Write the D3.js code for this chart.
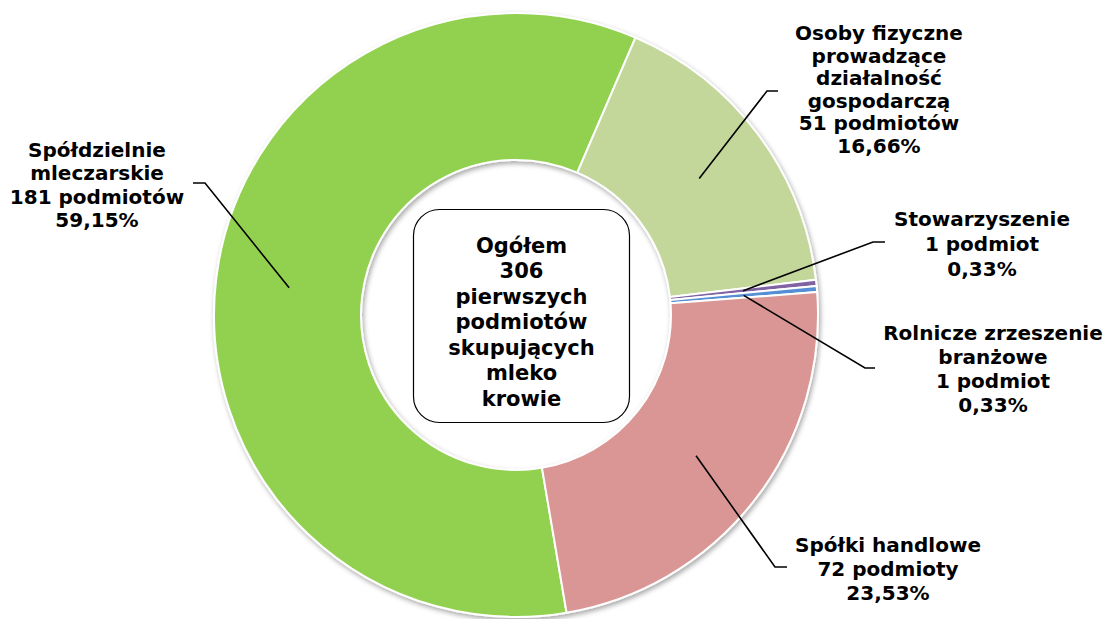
<!DOCTYPE html>
<html>
<head>
<meta charset="utf-8">
<script src="https://cdn.jsdelivr.net/npm/d3@7/dist/d3.min.js"></script>
<style>
  html, body { margin: 0; padding: 0; background: #fff; }
  svg { display: block; }
  text { font-family: "DejaVu Sans", Verdana, sans-serif; font-weight: bold; fill: #000; }
</style>
</head>
<body>
<svg id="chart" width="1106" height="619"></svg>
<script>
// ---- data ----
const categories = ["Spółdzielnie mleczarskie", "Osoby fizyczne prowadzące działalność gospodarczą", "Stowarzyszenie", "Rolnicze zrzeszenie branżowe", "Spółki handlowe"];
const counts = [181, 51, 1, 1, 72];
const percentLabels = ["59,15%", "16,66%", "0,33%", "0,33%", "23,53%"];
const countLabels = ["181 podmiotów", "51 podmiotów", "1 podmiot", "1 podmiot", "72 podmioty"];
const nameLines = [
  ["Spółdzielnie", "mleczarskie"],
  ["Osoby fizyczne", "prowadzące", "działalność", "gospodarczą"],
  ["Stowarzyszenie"],
  ["Rolnicze zrzeszenie", "branżowe"],
  ["Spółki handlowe"]
];
const centerLines = ["Ogółem", "306", "pierwszych", "podmiotów", "skupujących", "mleko", "krowie"];

// ---- style / layout ----
const colors = ["#92D050", "#C4D79B", "#8064A2", "#558ED5", "#D99694"];
const cx = 516, cy = 315, outerR = 302, innerR = 155;
// label layout: text centre x, first baseline, line step, elbow point, end of horizontal tick
const labelLayout = [
  { x: 97,  y: 157, step: 23.3, elbow: [205, 183], end: [193, 183] },
  { x: 879, y: 40,  step: 22.5, elbow: [767, 91],  end: [778, 91] },
  { x: 982, y: 226, step: 25,   elbow: [873, 242], end: [885, 242] },
  { x: 993, y: 340, step: 24,   elbow: [865, 368], end: [875, 368] },
  { x: 888, y: 552, step: 24,   elbow: [775, 567], end: [787, 567] }
];

const svg = d3.select("#chart");
const defs = svg.append("defs");
const f = defs.append("filter").attr("id", "shadow").attr("x", "-10%").attr("y", "-10%").attr("width", "120%").attr("height", "120%");
f.append("feDropShadow").attr("dx", 1.5).attr("dy", 2.5).attr("stdDeviation", 2.5)
  .attr("flood-color", "#000").attr("flood-opacity", 0.35);

const startDeg = 23.3 - counts[0] / d3.sum(counts) * 360;
const pie = d3.pie().sort(null).value(d => d)
  .startAngle(startDeg * Math.PI / 180)
  .endAngle((startDeg + 360) * Math.PI / 180);
const arcs = pie(counts);
const arc = d3.arc().innerRadius(innerR).outerRadius(outerR);
const midArc = d3.arc().innerRadius((innerR + outerR) / 2).outerRadius((innerR + outerR) / 2);

const g = svg.append("g").attr("transform", `translate(${cx},${cy})`);
g.append("g").attr("filter", "url(#shadow)")
  .selectAll("path").data(arcs).join("path")
  .attr("d", arc)
  .attr("fill", (d, i) => colors[i])
  .attr("stroke", "#fff")
  .attr("stroke-width", 2)
  .attr("stroke-linejoin", "round");

// leader lines
arcs.forEach((d, i) => {
  const c = midArc.centroid(d);
  const L = labelLayout[i];
  const pts = [[cx + c[0], cy + c[1]], L.elbow, L.end];
  svg.append("path")
    .attr("d", d3.line()(pts))
    .attr("fill", "none")
    .attr("stroke", "#000")
    .attr("stroke-width", 1.6);
});

// labels
arcs.forEach((d, i) => {
  const L = labelLayout[i];
  const lines = nameLines[i].concat([countLabels[i], percentLabels[i]]);
  const t = svg.append("text").attr("text-anchor", "middle").attr("font-size", 20);
  lines.forEach((s, k) => {
    t.append("tspan").attr("x", L.x).attr("y", L.y + k * L.step).text(s);
  });
});

// centre box
svg.append("rect")
  .attr("x", 413.5).attr("y", 209.5).attr("width", 216).attr("height", 213)
  .attr("rx", 26).attr("ry", 26)
  .attr("fill", "#fff").attr("stroke", "#000").attr("stroke-width", 1.2);
const ct = svg.append("text").attr("text-anchor", "middle").attr("font-size", 21);
centerLines.forEach((s, k) => {
  ct.append("tspan").attr("x", 521.5).attr("y", 252.5 + k * 25.5).text(s);
});
</script>
</body>
</html>
